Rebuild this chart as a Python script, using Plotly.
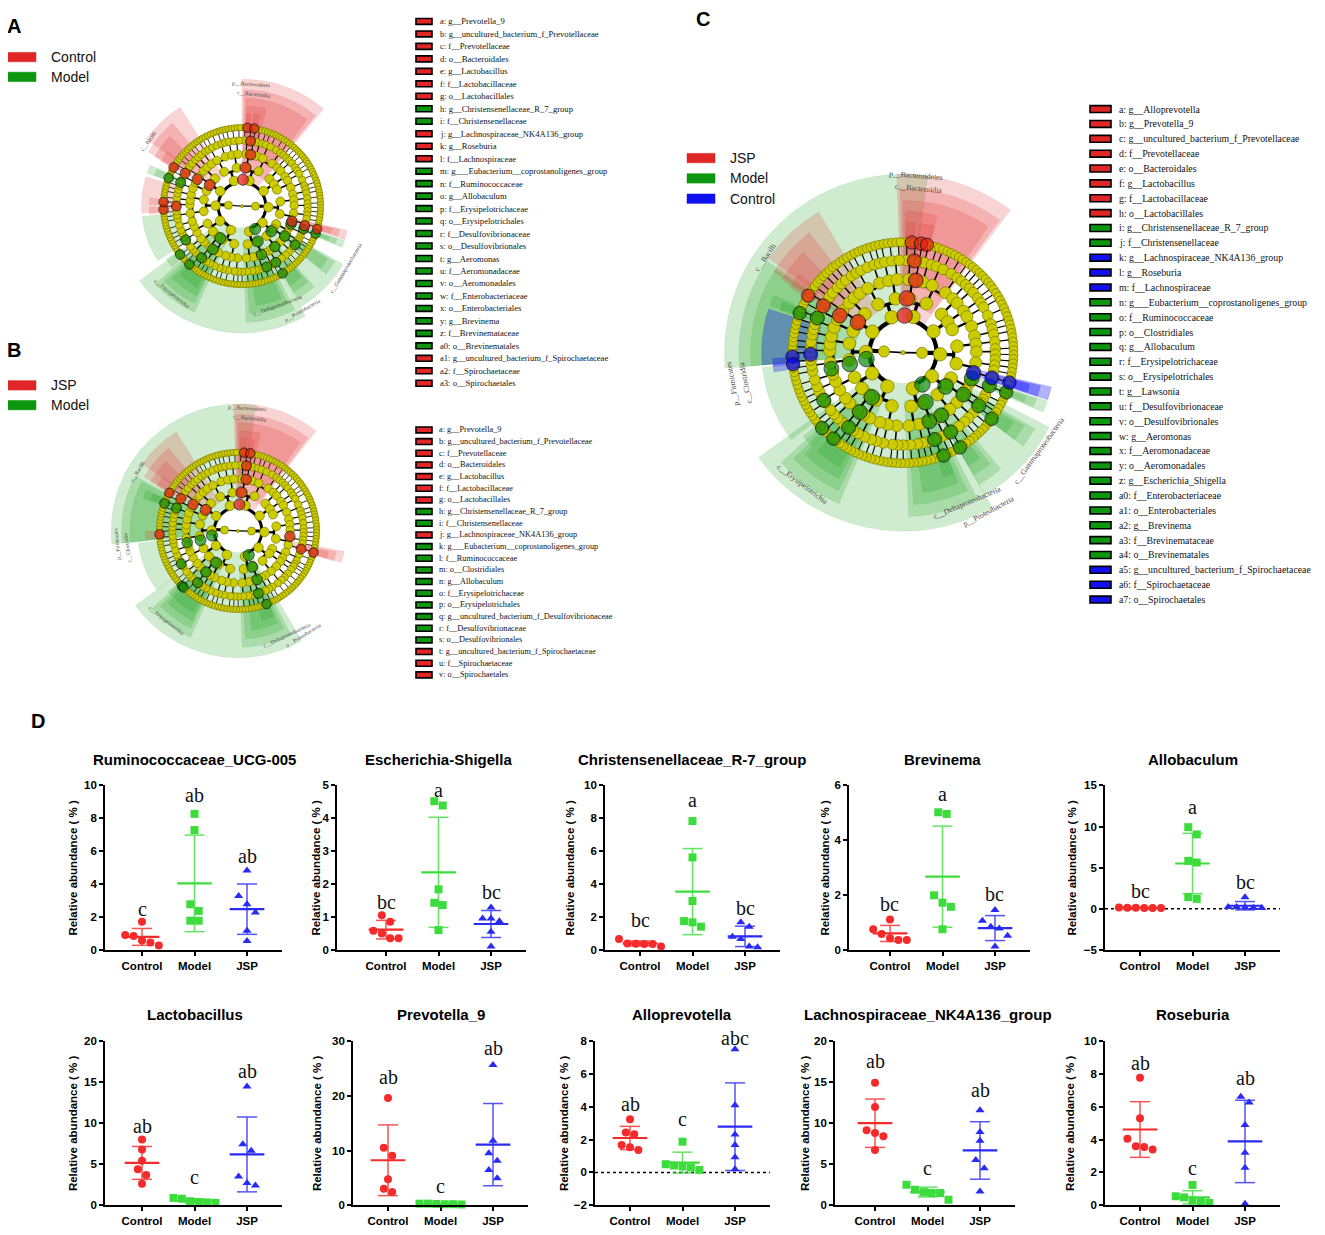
import numpy as np
import plotly.graph_objects as go

W, H = 1325, 1235
OFF = 8  # the page body margin shifts the figure by this many pixels

# ---------------- D: relative abundance (%) ----------------
groups = ['Control', 'Model', 'JSP']
taxa = ['Ruminococcaceae_UCG-005', 'Escherichia-Shigella', 'Christensenellaceae_R-7_group',
        'Brevinema', 'Allobaculum', 'Lactobacillus', 'Prevotella_9', 'Alloprevotella',
        'Lachnospiraceae_NK4A136_group', 'Roseburia']

ruminococcaceae_ucg005 = [[0.84, 1.71, 0.90, 0.56, 0.44, 0.26],
                          [8.27, 7.29, 2.77, 2.37, 1.77, 1.77],
                          [4.82, 3.27, 2.77, 2.27, 1.16, 0.54]]
escherichia_shigella = [[0.58, 0.85, 1.05, 0.50, 0.35, 0.35],
                        [4.39, 4.52, 1.84, 1.43, 1.36, 0.60],
                        [1.29, 0.95, 0.95, 0.87, 0.55, 0.10]]
christensenellaceae_r7 = [[0.38, 0.36, 0.37, 0.66, 0.35, 0.20],
                          [7.83, 5.62, 2.97, 1.75, 1.67, 1.41],
                          [1.67, 1.41, 0.66, 0.80, 0.20, 0.16]]
brevinema = [[1.11, 0.58, 0.75, 0.42, 0.36, 0.36],
             [4.96, 5.02, 1.99, 1.72, 1.57, 0.75],
             [1.45, 1.06, 0.84, 0.78, 0.51, 0.12]]
allobaculum = [[0.12, 0.10, 0.15, 0.12, 0.08, 0.10],
               [9.04, 9.92, 5.82, 5.62, 1.41, 1.20],
               [1.40, 0.20, 0.20, 0.15, 0.10, 0.12]]
lactobacillus = [[8.0, 6.8, 5.43, 4.39, 3.7, 2.62],
                 [0.8, 0.5, 0.4, 0.9, 0.35, 0.3],
                 [14.45, 7.44, 6.64, 3.5, 2.7, 2.41]]
prevotella_9 = [[19.6, 10.5, 9.05, 4.77, 3.0, 2.41],
                [0.3, 0.2, 0.25, 0.15, 0.2, 0.3],
                [25.6, 11.8, 9.5, 8.15, 6.46, 4.95]]
alloprevotella = [[3.24, 2.43, 2.33, 1.67, 1.53, 1.37],
                  [1.87, 0.5, 0.42, 0.36, 0.3, 0.15],
                  [7.5, 4.08, 2.31, 1.67, 0.93, 0.2]]
lachnospiraceae_nk4a136 = [[14.9, 11.95, 9.13, 8.81, 8.41, 6.72],
                           [1.6, 1.9, 2.5, 1.5, 1.5, 0.68],
                           [11.55, 8.93, 7.85, 5.51, 4.51, 1.69]]
roseburia = [[7.76, 5.3, 4.05, 3.6, 3.55, 3.4],
             [1.24, 0.55, 0.48, 0.3, 0.2, 0.15],
             [6.6, 6.25, 4.89, 3.19, 2.28, 0.1]]

abundance = [ruminococcaceae_ucg005, escherichia_shigella, christensenellaceae_r7, brevinema,
             allobaculum, lactobacillus, prevotella_9, alloprevotella, lachnospiraceae_nk4a136,
             roseburia]

y_ranges = [(0, 10), (0, 5), (0, 10), (0, 6), (-5, 15), (0, 20), (0, 30), (-2, 8), (0, 20), (0, 10)]
y_dticks = [2, 1, 2, 2, 5, 5, 10, 2, 5, 2]

letters = [['c', 'ab', 'ab'], ['bc', 'a', 'bc'], ['bc', 'a', 'bc'], ['bc', 'a', 'bc'],
           ['bc', 'a', 'bc'], ['ab', 'c', 'ab'], ['ab', 'c', 'ab'], ['ab', 'c', 'abc'],
           ['ab', 'c', 'ab'], ['ab', 'c', 'ab']]
letter_y = [[2.5, 9.4, 5.7], [1.46, 4.87, 1.76], [1.8, 9.14, 2.57], [1.69, 5.69, 2.05],
            [2.13, 12.37, 3.21], [9.6, 3.4, 16.3], [23.5, 3.6, 28.7], [4.19, 3.28, 8.15],
            [17.5, 4.6, 14.0], [8.66, 2.24, 7.76]]

# ---------------- A/B/C: LEfSe cladograms ----------------
# number of children of every node, level by level (root -> kingdom -> phylum -> ... -> genus)
tree_children = [
    [2],
    [5, 5],
    [2, 3, 2, 3, 2, 3, 2, 2, 3, 2],
    [2, 3, 2, 1, 2, 3, 2, 2, 1, 3, 2, 2, 3, 2, 1, 2, 2, 3, 2, 2, 1, 2, 3, 2],
    [2, 1, 2, 2, 3, 1, 2, 2, 1, 2, 2, 1, 2, 3, 1, 2, 2, 1, 2, 2,
     1, 2, 2, 1, 3, 2, 1, 2, 2, 1, 2, 2, 1, 2, 2, 1, 3, 2, 1, 2,
     2, 1, 2, 2, 1, 2, 2, 3, 1, 2],
    [2, 2, 1, 2, 2, 1, 3, 2, 2, 1, 2, 1, 2, 2, 1, 2, 3, 2, 1, 2,
     2, 2, 1, 2, 1, 2, 2, 3, 2, 1, 1, 2, 2, 2, 1, 3, 2, 1, 2, 2,
     2, 1, 2, 2, 2, 1, 2, 3, 1, 2, 2, 2, 1, 2, 2, 2, 1, 2, 3, 1,
     2, 1, 3, 2, 1, 2, 2, 1, 2, 2, 1, 2, 2, 2, 3, 1, 2, 2, 1, 2,
     2, 1, 2, 2, 2, 1, 2, 2, 2],
]

# highlighted clades: (level, theta from, theta to, node theta, colour)
clades_A = [
    (2, 0, 40, 2, 'r'), (3, 1, 39, 5, 'r'), (4, 2, 37, 9.5, 'r'), (5, 3, 14, 7.5, 'r'),
    (6, 2.5, 5.5, 4, 'r'), (6, 7.5, 11, 9, 'r'),
    (3, -55, -32, -57, 'r'), (4, -60, -40, -59, 'r'), (5, -60.5, -46, -60, 'r'), (6, -61, -54, -60.5, 'r'),
    (5, -71, -66, -69, 'g'), (6, -70.5, -66.5, -69, 'g'),
    (5, -94, -73, -90, 'r'), (6, -95, -90.5, -92.5, 'r'), (6, -89, -85, -87, 'r'),
    (5, -123, -96, -121, 'g'), (6, -131, -125, -128, 'g'),
    (2, 150, 234, 150, 'g'),
    (3, 120, 150, 130.5, 'g'), (4, 121, 129, 125, 'g'), (5, 121.5, 128.5, 126, 'g'),
    (4, 138, 149, 141, 'g'), (5, 139, 149, 149, 'g'), (6, 140, 149, 149, 'g'),
    (3, 153, 178, 156, 'g'), (4, 155, 176, 158, 'g'), (5, 157, 172, 158, 'g'),
    (3, 204, 228, 214, 'g'), (4, 206, 226, 214, 'g'), (5, 207, 224, 218, 'g'), (6, 209, 222, 222, 'g'),
    (4, 103, 108, 107, 'r'), (5, 103.5, 107.5, 107.5, 'r'), (6, 104, 107, 107, 'r'),
    (4, 108.5, 112.5, 110, 'g'), (5, 109, 112, 110.5, 'g'), (6, 109.5, 111.5, 110.5, 'g'),
]
clades_B = [
    (2, -2, 38, 3, 'r'), (3, -1, 37, 5, 'r'), (4, 0, 35, 9, 'r'), (5, 1, 13, 7.4, 'r'),
    (6, 1.5, 5.5, 4.5, 'r'), (6, 7, 10.5, 9, 'r'),
    (2, -96, 8, -100, 'g'), (3, -96, -62, -104, 'g'), (4, -96, -63, -103, 'g'),
    (3, -55, -32, -57, 'r'), (4, -60, -40, -59.5, 'r'), (5, -60.5, -46, -60.5, 'r'), (6, -61, -54, -61, 'r'),
    (5, -71, -66, -69.6, 'g'), (6, -70.5, -66.5, -69.5, 'g'),
    (6, -95, -90, -92.5, 'r'),
    (5, -126, -97, -120, 'g'), (6, -137, -131, -134.5, 'g'),
    (2, 150, 234, 156, 'g'),
    (3, 204, 228, 214.5, 'g'), (4, 206, 226, 218, 'g'), (5, 207, 224, 218, 'g'), (6, 209, 222, 224, 'g'),
    (3, 153, 178, 158.5, 'g'), (4, 155, 176, 158.5, 'g'), (5, 157, 172, 162, 'g'), (6, 157, 165, 158.7, 'g'),
    (4, 101, 107, 96, 'r'), (5, 102, 107.5, 106, 'r'), (6, 103, 107.5, 106, 'r'),
]
clades_C = [
    (2, -2, 37, 2.5, 'r'), (3, -1, 36, 4, 'r'), (4, 0, 34, 10, 'r'), (5, 1, 14, 7, 'r'),
    (6, 1.5, 5.5, 4.6, 'r'), (6, 7.5, 11, 9.4, 'r'), (6, 11.5, 14, 12.5, 'r'),
    (2, -95, 8, -100, 'g'), (3, -95, -56, -102, 'g'), (4, -95, -57, -102.6, 'g'),
    (3, -55, -31, -56, 'r'), (4, -58, -38, -59.5, 'r'), (5, -59, -45, -59.6, 'r'), (6, -60, -53, -59, 'r'),
    (5, -70.5, -66, -68, 'g'), (6, -71, -67, -69, 'g'),
    (5, -95, -72, -91, 'b'), (6, -96, -92.5, -92, 'b'), (6, -98.5, -95, -96, 'b'),
    (5, -128, -96, -121, 'g'), (6, -136, -130, -133, 'g'),
    (3, 203, 228, 215, 'g'), (4, 205, 226, 216, 'g'), (5, 207, 224, 216, 'g'), (6, 209, 221, 219, 'g'),
    (2, 150, 234, 148.6, 'g'),
    (3, 117, 150, 128.5, 'g'), (4, 120, 128, 124.8, 'g'), (5, 121, 128, 125, 'g'), (6, 122, 128, 126.8, 'g'),
    (4, 140, 150, 148.5, 'g'), (5, 142, 150, 149, 'g'), (6, 144, 150, 149, 'g'),
    (3, 153, 178, 155.6, 'g'), (4, 155, 176, 159, 'g'), (5, 157, 172, 160, 'g'), (6, 157, 162, 158.5, 'g'),
    (4, 103, 108, 106, 'b'), (5, 103.5, 108, 105.8, 'b'), (6, 104, 107.5, 105.7, 'b'),
    (4, 108.5, 113, 110.5, 'g'), (5, 109, 112.5, 111, 'g'), (6, 109.5, 112, 111, 'g'),
]

# clade names written round the cladograms: (text, theta, radius)
names_A = [('p__Bacteroidetes', 4, 0.95), ('c__Bacteroidia', 6, 0.875), ('c__Bacilli', -55, 0.88),
           ('c__Erysipelotrichia', 218, 0.87), ('c__Deltaproteobacteria', 160, 0.82),
           ('p__Proteobacteria', 150, 0.93), ('c__Gammaproteobacteria', 121, 0.93)]
names_B = [('p__Bacteroidetes', 4, 0.955), ('c__Bacteroidia', 6, 0.88), ('c__Bacilli', -59, 0.9),
           ('p__Firmicutes', -96, 0.94), ('c__Clostridia', -99, 0.86),
           ('c__Erysipelotrichia', 218, 0.885), ('c__Deltaproteobacteria', 155, 0.89),
           ('p__Proteobacteria', 148, 0.95)]
names_C = [('p__Bacteroidetes', 4, 0.98), ('c__Bacteroidia', 5.5, 0.91), ('c__Bacilli', -55, 0.92),
           ('p__Firmicutes', -100.5, 0.95), ('c__Clostridia', -101, 0.88),
           ('c__Erysipelotrichia', 217, 0.91), ('p__Proteobacteria', 152, 0.99),
           ('c__Deltaproteobacteria', 157, 0.9), ('c__Gammaproteobacteria', 126, 0.92)]

# biomarker keys
key_A = ['a: g__Prevotella_9', 'b: g__uncultured_bacterium_f_Prevotellaceae', 'c: f__Prevotellaceae',
         'd: o__Bacteroidales', 'e: g__Lactobacillus', 'f: f__Lactobacillaceae', 'g: o__Lactobacillales',
         'h: g__Christensenellaceae_R_7_group', 'i: f__Christensenellaceae',
         'j: g__Lachnospiraceae_NK4A136_group', 'k: g__Roseburia', 'l: f__Lachnospiraceae',
         'm: g___Eubacterium__coprostanoligenes_group', 'n: f__Ruminococcaceae', 'o: g__Allobaculum',
         'p: f__Erysipelotrichaceae', 'q: o__Erysipelotrichales', 'r: f__Desulfovibrionaceae',
         's: o__Desulfovibrionales', 't: g__Aeromonas', 'u: f__Aeromonadaceae', 'v: o__Aeromonadales',
         'w: f__Enterobacteriaceae', 'x: o__Enterobacteriales', 'y: g__Brevinema',
         'z: f__Brevinemataceae', 'a0: o__Brevinematales',
         'a1: g__uncultured_bacterium_f_Spirochaetaceae', 'a2: f__Spirochaetaceae', 'a3: o__Spirochaetales']
key_A_col = 'rrrrrrrggrrrgggggggggggggggrrr'
key_B = ['a: g__Prevotella_9', 'b: g__uncultured_bacterium_f_Prevotellaceae', 'c: f__Prevotellaceae',
         'd: o__Bacteroidales', 'e: g__Lactobacillus', 'f: f__Lactobacillaceae', 'g: o__Lactobacillales',
         'h: g__Christensenellaceae_R_7_group', 'i: f__Christensenellaceae',
         'j: g__Lachnospiraceae_NK4A136_group', 'k: g___Eubacterium__coprostanoligenes_group',
         'l: f__Ruminococcaceae', 'm: o__Clostridiales', 'n: g__Allobaculum', 'o: f__Erysipelotrichaceae',
         'p: o__Erysipelotrichales', 'q: g__uncultured_bacterium_f_Desulfovibrionaceae',
         'r: f__Desulfovibrionaceae', 's: o__Desulfovibrionales',
         't: g__uncultured_bacterium_f_Spirochaetaceae', 'u: f__Spirochaetaceae', 'v: o__Spirochaetales']
key_B_col = 'rrrrrrrggrgggggggggrrr'
key_C = ['a: g__Alloprevotella', 'b: g__Prevotella_9', 'c: g__uncultured_bacterium_f_Prevotellaceae',
         'd: f__Prevotellaceae', 'e: o__Bacteroidales', 'f: g__Lactobacillus', 'g: f__Lactobacillaceae',
         'h: o__Lactobacillales', 'i: g__Christensenellaceae_R_7_group', 'j: f__Christensenellaceae',
         'k: g__Lachnospiraceae_NK4A136_group', 'l: g__Roseburia', 'm: f__Lachnospiraceae',
         'n: g___Eubacterium__coprostanoligenes_group', 'o: f__Ruminococcaceae', 'p: o__Clostridiales',
         'q: g__Allobaculum', 'r: f__Erysipelotrichaceae', 's: o__Erysipelotrichales', 't: g__Lawsonia',
         'u: f__Desulfovibrionaceae', 'v: o__Desulfovibrionales', 'w: g__Aeromonas',
         'x: f__Aeromonadaceae', 'y: o__Aeromonadales', 'z: g__Escherichia_Shigella',
         'a0: f__Enterobacteriaceae', 'a1: o__Enterobacteriales', 'a2: g__Brevinema',
         'a3: f__Brevinemataceae', 'a4: o__Brevinematales',
         'a5: g__uncultured_bacterium_f_Spirochaetaceae', 'a6: f__Spirochaetaceae', 'a7: o__Spirochaetales']
key_C_col = 'rrrrrrrrggbbbggggggggggggggggggbbb'

# ---------------- styles ----------------
R_LV = [0.0, 0.105, 0.205, 0.30, 0.405, 0.51, 0.61]
OUT_LV = {2: 0.985, 3: 0.905, 4: 0.84, 5: 0.78, 6: 0.72}
WEDGE = {'r': 'rgba(228,60,60,0.22)', 'g': 'rgba(20,160,20,0.2)', 'b': 'rgba(0,0,255,0.3)'}
NODE = {'r': '#e41a1c', 'g': '#0a8c0a', 'b': '#0000ff'}
SWATCH = {'r': '#e02626', 'g': '#0e960e', 'b': '#1010f0'}
DCOL = ['#f52a2a', '#3ddc3d', '#2a2af5']
SYM = ['circle', 'square', 'triangle-up']
SANS = 'Liberation Sans'
SERIF = 'Liberation Serif'


def px(x):
    return (x - OFF) / W


def py(y):
    return 1 - (y - OFF) / H


def tree_layout(children, offset):
    counts = [1] + [int(sum(c)) for c in children]
    ang = [None] * len(counts)
    par = [None] * len(counts)
    ang[-1] = offset + np.arange(counts[-1]) * 360.0 / counts[-1]
    for k in range(len(children) - 1, -1, -1):
        ch = np.asarray(children[k])
        first = np.concatenate([[0], np.cumsum(ch)[:-1]]).astype(int)
        last = first + ch - 1
        ang[k] = (ang[k + 1][first] + ang[k + 1][last]) / 2
        par[k + 1] = np.repeat(np.arange(len(ch)), ch)
    return ang, par


fig = go.Figure()
annos = []
shapes = []
layout_extra = {}


def text(x, y, s, size, family=SANS, bold=False, color='black', angle=0, xanchor='center'):
    f = dict(family=family, size=size, color=color)
    if bold:
        f['weight'] = 'bold'
    annos.append(dict(x=px(x), y=py(y), xref='paper', yref='paper', text=s, showarrow=False,
                      xanchor=xanchor, yanchor='middle', textangle=angle, font=f))


def cladogram(idx, cx, cy, R, clades, names):
    s = R / 130.0
    sub = 'polar' if idx == 1 else f'polar{idx}'
    layout_extra[sub] = dict(
        domain=dict(x=[px(cx - R), px(cx + R)], y=[py(cy + R), py(cy - R)]),
        bgcolor='rgba(0,0,0,0)', barmode='overlay', hole=0,
        radialaxis=dict(visible=False, range=[0, 1]),
        angularaxis=dict(visible=False, rotation=90, direction='clockwise', showgrid=False))

    # shaded clades
    for c in ['g', 'r', 'b']:
        sel = sorted([cl for cl in clades if cl[4] == c], key=lambda t: t[0])
        if not sel:
            continue
        fig.add_trace(go.Barpolar(
            theta=[(a[1] + a[2]) / 2 for a in sel], width=[a[2] - a[1] for a in sel],
            base=[R_LV[a[0]] - 0.035 for a in sel],
            r=[OUT_LV[a[0]] - R_LV[a[0]] + 0.035 for a in sel],
            marker=dict(color=WEDGE[c], line=dict(width=0.4, color=WEDGE[c])),
            subplot=sub, hoverinfo='skip'))

    # tree branches
    ang, par = tree_layout(tree_children, 1.0)
    widths = {1: 1.2, 2: 3.0, 3: 2.3, 4: 1.6, 5: 1.1, 6: 0.8}
    for k in range(1, 7):
        rr, tt = [], []
        for p in range(len(ang[k - 1])):
            kids = ang[k][par[k] == p]
            tp = ang[k - 1][p]
            if k == 1:
                for tk in kids:
                    rr += [0, R_LV[1], None]
                    tt += [tp, tk, None]
                continue
            ra = R_LV[k] - 0.02
            rr += [R_LV[k - 1], ra, None]
            tt += [tp, tp, None]
            lo, hi = min(kids.min(), tp), max(kids.max(), tp)
            n = int((hi - lo) / 1.5) + 2
            rr += [ra] * n + [None]
            tt += list(np.linspace(lo, hi, n)) + [None]
            for tk in kids:
                rr += [ra, R_LV[k], None]
                tt += [tk, tk, None]
        fig.add_trace(go.Scatterpolar(r=rr, theta=tt, mode='lines', subplot=sub,
                                      line=dict(color='black', width=widths[k] * s),
                                      hoverinfo='skip'))
    # yellow nodes
    sizes = [3, 8, 9.5, 9, 8.5, 7.5, 6.3]
    for k in range(7):
        fig.add_trace(go.Scatterpolar(
            r=[R_LV[k]] * len(ang[k]), theta=ang[k], mode='markers', subplot=sub,
            marker=dict(size=sizes[k] * s, color='#cccc00', line=dict(color='#7a7a00', width=0.7)),
            hoverinfo='skip'))
    # biomarker nodes
    csz = {2: 11, 3: 11, 4: 10.5, 5: 10, 6: 9.5}
    for c in ['g', 'r', 'b']:
        sel = [cl for cl in clades if cl[4] == c and cl[3] is not None]
        if not sel:
            continue
        fig.add_trace(go.Scatterpolar(
            r=[R_LV[a[0]] for a in sel], theta=[a[3] for a in sel], mode='markers', subplot=sub,
            marker=dict(size=[csz[a[0]] * s for a in sel], color=NODE[c],
                        line=dict(color='black', width=1)),
            hoverinfo='skip'))
    # clade names
    for txt, th, rad in names:
        t = np.radians(th)
        x = cx + rad * R * np.sin(t)
        y = cy - rad * R * np.cos(t)
        a = ((th + 180) % 360) - 180
        if a > 90 or a < -120:
            a = a - 180 if a > 0 else a + 180
        text(x, y, txt, 5.5 * s, family=SERIF, color='#444444', angle=a)


cladogram(1, 242, 202, 130, clades_A, names_A)
cladogram(2, 238, 530, 130, clades_B, names_B)
cladogram(3, 903, 350, 183, clades_C, names_C)


def key_list(labels, cols, x_rect, w_rect, h_rect, x_text, y0, dy, fsize):
    for i, (lab, c) in enumerate(zip(labels, cols)):
        y = y0 + i * dy
        shapes.append(dict(type='rect', xref='paper', yref='paper',
                           x0=px(x_rect), x1=px(x_rect + w_rect),
                           y0=py(y + h_rect / 2), y1=py(y - h_rect / 2),
                           fillcolor=SWATCH[c], line=dict(color='black', width=1.6)))
        text(x_text, y, lab, fsize, family=SERIF, color='#111111', xanchor='left')


key_list(key_A, key_A_col, 416, 16, 6, 438, 15.5, 12.6, 8.6)
key_list(key_B, key_B_col, 416, 16, 6, 437, 428, 11.78, 8.3)
key_list(key_C, key_C_col, 1090, 21, 7, 1117, 104, 15.01, 9.8)


def group_legend(items, x_rect, x_text, ys, w=28, h=9.5):
    for (lab, c), y in zip(items, ys):
        shapes.append(dict(type='rect', xref='paper', yref='paper', x0=px(x_rect), x1=px(x_rect + w),
                           y0=py(y + h / 2), y1=py(y - h / 2), fillcolor=SWATCH[c],
                           line=dict(color=SWATCH[c], width=0.5)))
        text(x_text, y, lab, 14, color='#111111', xanchor='left')


group_legend([('Control', 'r'), ('Model', 'g')], 8, 49, [51.5, 71.5])
group_legend([('JSP', 'r'), ('Model', 'g')], 8, 49, [383, 403])
group_legend([('JSP', 'r'), ('Model', 'g'), ('Control', 'b')], 687, 728, [153.5, 174, 194.5])

for letter, x, y in [('A', 14, 20), ('B', 14, 347), ('C', 703, 13), ('D', 38, 722)]:
    text(x, y, letter, 20, bold=True)

# ---------------- D: scatter dot plots ----------------
CAT = 52.5
axis_x0 = [105, 337, 605, 849, 1105, 105, 353, 595, 835, 1105]
ctrl_x = [142, 386, 640, 890, 1140, 142, 388, 630, 875, 1140]
ytitle_x = [73, 316, 570, 825, 1072, 73, 317, 564, 805, 1070]


def swarm(vals, ppu, size=8.5, step=0.16):
    order = np.argsort(vals)[::-1]
    offs = np.zeros(len(vals))
    clusters, cur = [], [order[0]]
    for a, b in zip(order[:-1], order[1:]):
        if (vals[a] - vals[b]) * ppu < size:
            cur.append(b)
        else:
            clusters.append(cur)
            cur = [b]
    clusters.append(cur)
    for cl in clusters:
        n = len(cl)
        for i, j in enumerate(cl):
            offs[j] = (i - (n - 1) / 2) * step
    return offs


for i in range(10):
    ax = i + 1
    xs = 'x' if ax == 1 else f'x{ax}'
    ys = 'y' if ax == 1 else f'y{ax}'
    x0, xc = axis_x0[i], ctrl_x[i]
    lo, hi = -(xc - x0) / CAT, 2 + 35 / CAT
    top, bot = (787, 953) if i < 5 else (1045, 1211)
    ymin, ymax = y_ranges[i]
    ppu = (bot - top) / (ymax - ymin)
    if ymin < 0:
        fig.add_trace(go.Scatter(x=[lo, hi], y=[0, 0], mode='lines', xaxis=xs, yaxis=ys,
                                 line=dict(color='black', width=1.6, dash='dot'), hoverinfo='skip'))
    for g in range(3):
        vals = np.array(abundance[i][g], dtype=float)
        m, sd = vals.mean(), vals.std(ddof=1)
        fig.add_trace(go.Scatter(x=[g, g, None, g - 0.19, g + 0.19, None, g - 0.19, g + 0.19],
                                 y=[m - sd, m + sd, None, m + sd, m + sd, None, m - sd, m - sd],
                                 mode='lines', xaxis=xs, yaxis=ys, opacity=0.8,
                                 line=dict(color=DCOL[g], width=1.5), hoverinfo='skip'))
        fig.add_trace(go.Scatter(x=[g - 0.33, g + 0.33], y=[m, m], mode='lines', xaxis=xs, yaxis=ys,
                                 line=dict(color=DCOL[g], width=2.2), hoverinfo='skip'))
        fig.add_trace(go.Scatter(x=g + swarm(vals, ppu), y=vals, mode='markers', xaxis=xs, yaxis=ys,
                                 cliponaxis=False,
                                 marker=dict(symbol=SYM[g], size=8, color=DCOL[g], line=dict(width=0)),
                                 hoverinfo='skip'))
        annos.append(dict(x=g, y=(letter_y[i][g] - ymin) / (ymax - ymin), xref=xs, yref=f'{ys} domain',
                          text=letters[i][g], showarrow=False, xanchor='center', yanchor='middle',
                          font=dict(family=SERIF, size=20, color='#111111')))
    xa = 'xaxis' if ax == 1 else f'xaxis{ax}'
    ya = 'yaxis' if ax == 1 else f'yaxis{ax}'
    layout_extra[xa] = dict(domain=[px(x0), px(xc + 2 * CAT + 35)], range=[lo, hi], anchor=ys,
                            tickvals=[0, 1, 2], ticktext=groups, showline=True, linecolor='black',
                            linewidth=1.8, ticks='outside', ticklen=4, tickwidth=1.5, tickcolor='black',
                            showgrid=False, zeroline=False,
                            tickfont=dict(family=SANS, size=11.5, color='black', weight='bold'))
    layout_extra[ya] = dict(domain=[py(bot), py(top)], range=[ymin, ymax], anchor=xs, dtick=y_dticks[i],
                            tick0=0, showline=True, linecolor='black', linewidth=1.8, ticks='outside',
                            ticklen=4, tickwidth=1.5, tickcolor='black', showgrid=False, zeroline=False,
                            tickfont=dict(family=SANS, size=11.5, color='black', weight='bold'))
    text(xc + CAT, 761 if i < 5 else 1018, taxa[i], 15, bold=True)
    text(ytitle_x[i], (top + bot) / 2, 'Relative abundance ( % )', 11.5, bold=True, angle=-90)

fig.update_layout(width=W, height=H, margin=dict(l=0, r=0, t=0, b=0), showlegend=False,
                  paper_bgcolor='white', plot_bgcolor='white', annotations=annos, shapes=shapes,
                  **layout_extra)

fig.write_html("out.html")
